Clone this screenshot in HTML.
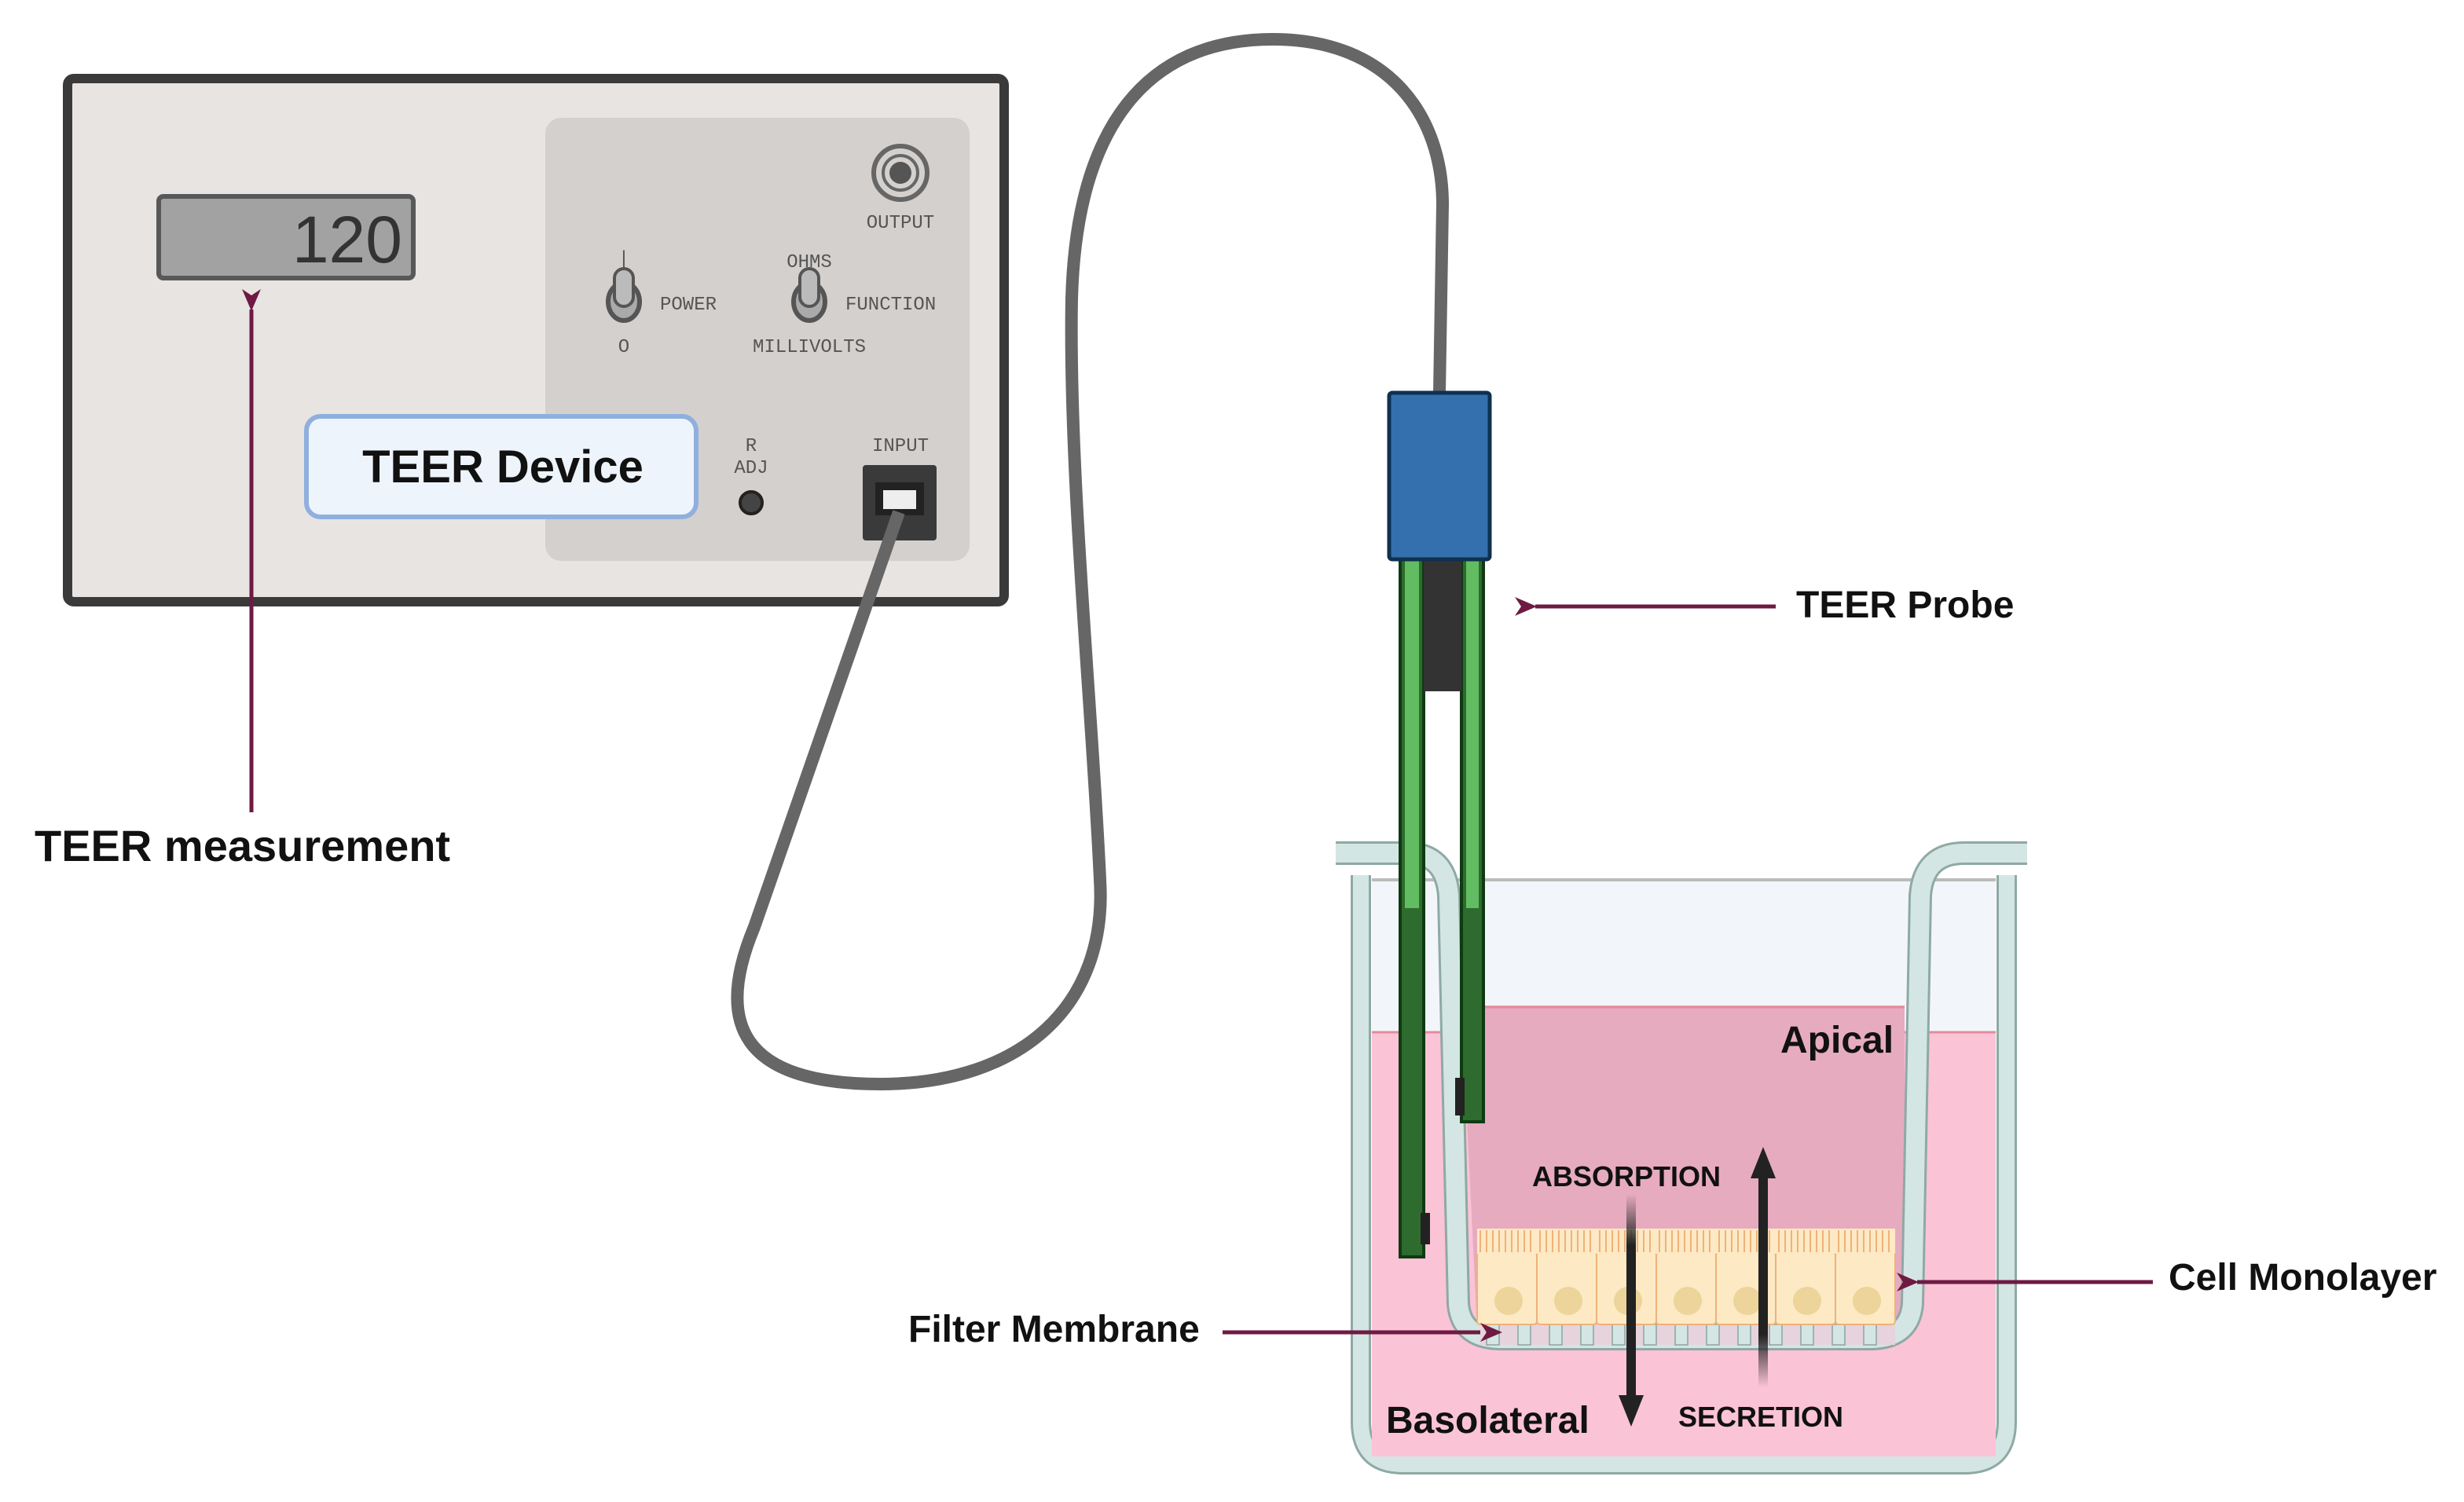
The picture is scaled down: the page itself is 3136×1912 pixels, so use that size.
<!DOCTYPE html>
<html><head><meta charset="utf-8"><style>
html,body{margin:0;padding:0;background:#fff;}
svg{display:block;}
text{font-family:"Liberation Sans",sans-serif;}
.m{font-family:"Liberation Mono",monospace;fill:#555;font-size:12px;}
.b{font-weight:bold;fill:#111;}
</style></head><body>
<svg width="3136" height="1912" viewBox="0 0 1568 956" xmlns="http://www.w3.org/2000/svg">
<defs>
<marker id="ah" markerWidth="14" markerHeight="12" refX="1" refY="6" orient="auto" markerUnits="userSpaceOnUse"><path d="M14,0 L0,6 L14,12 L10,6 Z" fill="#6e1a42"/></marker>
<linearGradient id="ga" x1="0" y1="0" x2="0" y2="1"><stop offset="0" stop-color="#222" stop-opacity="0"/><stop offset="0.25" stop-color="#222"/></linearGradient>
<linearGradient id="gs" x1="0" y1="1" x2="0" y2="0"><stop offset="0" stop-color="#222" stop-opacity="0"/><stop offset="0.25" stop-color="#222"/></linearGradient>
</defs>
<rect width="1568" height="956" fill="#fff"/>
<!-- device -->
<rect x="43" y="50" width="596" height="333" rx="4" fill="#e8e4e2" stroke="#3a3a3a" stroke-width="6"/>
<rect x="347" y="75" width="270" height="282" rx="10" fill="#d4d0ce"/>
<rect x="101" y="125" width="162" height="52" rx="3" fill="#a2a2a2" stroke="#585858" stroke-width="3"/>
<text x="256" y="167" text-anchor="end" font-size="42" fill="#333">120</text>
<circle cx="573" cy="110" r="17" fill="#d4d0ce" stroke="#666" stroke-width="3"/>
<circle cx="573" cy="110" r="11" fill="none" stroke="#666" stroke-width="2"/>
<circle cx="573" cy="110" r="7" fill="#555"/>
<text x="573" y="145" text-anchor="middle" class="m">OUTPUT</text>
<ellipse cx="397" cy="192" rx="10" ry="12" fill="#aaa" stroke="#555" stroke-width="3"/>
<rect x="391" y="171" width="12" height="24" rx="6" fill="#bbb" stroke="#555" stroke-width="2"/>
<text x="397" y="168" text-anchor="middle" class="m">|</text>
<text x="420" y="197" class="m">POWER</text>
<text x="397" y="224" text-anchor="middle" class="m">O</text>
<ellipse cx="515" cy="192" rx="10" ry="12" fill="#aaa" stroke="#555" stroke-width="3"/>
<rect x="509" y="171" width="12" height="24" rx="6" fill="#bbb" stroke="#555" stroke-width="2"/>
<text x="515" y="170" text-anchor="middle" class="m">OHMS</text>
<text x="538" y="197" class="m">FUNCTION</text>
<text x="515" y="224" text-anchor="middle" class="m">MILLIVOLTS</text>
<text x="478" y="287" text-anchor="middle" class="m">R</text>
<text x="478" y="301" text-anchor="middle" class="m">ADJ</text>
<circle cx="478" cy="320" r="7" fill="#444" stroke="#222" stroke-width="2"/>
<text x="573" y="287" text-anchor="middle" class="m">INPUT</text>
<rect x="549" y="296" width="47" height="48" rx="2" fill="#3a3a3a"/>
<rect x="557" y="307" width="31" height="21" fill="#222"/>
<rect x="562" y="312" width="21" height="12" fill="#eee"/>
<rect x="195" y="265" width="248" height="64" rx="9" fill="#eef4fc" stroke="#8fb0de" stroke-width="3"/>
<text x="320" y="307" text-anchor="middle" class="b" font-size="29">TEER Device</text>
<!-- cable -->
<path d="M572,326 L480,590 C455,650 470,690 560,690 C650,690 705,640 700,560 C695,450 680,300 682,190 C685,80 730,25 810,25 C885,25 918,75 918,130 L916,250" fill="none" stroke="#666" stroke-width="8" stroke-linejoin="round"/>
<!-- TEER measurement arrow -->
<line x1="160" y1="517" x2="160" y2="197" stroke="#6e1a42" stroke-width="2.5" marker-end="url(#ah)"/>
<text x="22" y="548" class="b" font-size="28">TEER measurement</text>
<!-- well outer -->
<path d="M866,557 L866,905 Q866,932 893,932 L1250,932 Q1277,932 1277,905 L1277,557" fill="none" stroke="#8fa9a4" stroke-width="13"/>
<path d="M866,557 L866,905 Q866,932 893,932 L1250,932 Q1277,932 1277,905 L1277,557" fill="none" stroke="#d3e6e3" stroke-width="10"/>
<rect x="873" y="560" width="397" height="98" fill="#f2f6fa"/>
<line x1="873" y1="560" x2="1270" y2="560" stroke="#bbb" stroke-width="2"/>
<rect x="873" y="657" width="397" height="270" fill="#fbc3d6"/>
<line x1="873" y1="657" x2="1270" y2="657" stroke="#e48c9c" stroke-width="1.5"/>
<!-- insert -->
<path d="M930,640 L1212,640 L1212,846 L940,846 Z" fill="#e6abbf"/>
<line x1="930" y1="641" x2="1212" y2="641" stroke="#e48c9c" stroke-width="1.5"/>
<path d="M850,543 L895,543 Q920,543 922,570 L928,830 Q930,852 955,852 L1190,852 Q1215,852 1217,830 L1222,570 Q1224,543 1250,543 L1290,543" fill="none" stroke="#8fa9a4" stroke-width="15"/>
<path d="M850,543 L895,543 Q920,543 922,570 L928,830 Q930,852 955,852 L1190,852 Q1215,852 1217,830 L1222,570 Q1224,543 1250,543 L1290,543" fill="none" stroke="#d3e6e3" stroke-width="12"/>
<!-- membrane -->
<rect x="942" y="843" width="264" height="13" fill="#e7d3dc"/>
<g fill="#d3e6e3" stroke="#8fa9a4" stroke-width="0.8">
<rect x="946" y="843" width="8" height="13"/><rect x="966" y="843" width="8" height="13"/><rect x="986" y="843" width="8" height="13"/><rect x="1006" y="843" width="8" height="13"/><rect x="1026" y="843" width="8" height="13"/><rect x="1046" y="843" width="8" height="13"/><rect x="1066" y="843" width="8" height="13"/><rect x="1086" y="843" width="8" height="13"/><rect x="1106" y="843" width="8" height="13"/><rect x="1126" y="843" width="8" height="13"/><rect x="1146" y="843" width="8" height="13"/><rect x="1166" y="843" width="8" height="13"/><rect x="1186" y="843" width="8" height="13"/>
</g>
<!-- cells -->
<g stroke="#eeb27a" stroke-width="1" fill="#fde9c4">
<rect x="940" y="797" width="38" height="46" rx="2"/><rect x="978" y="797" width="38" height="46" rx="2"/><rect x="1016" y="797" width="38" height="46" rx="2"/><rect x="1054" y="797" width="38" height="46" rx="2"/><rect x="1092" y="797" width="38" height="46" rx="2"/><rect x="1130" y="797" width="38" height="46" rx="2"/><rect x="1168" y="797" width="38" height="46" rx="2"/>
</g>
<rect x="940" y="782" width="266" height="16" fill="#fde9c4"/>
<path d="M942,797 V783 M946,797 V783 M950,797 V783 M954,797 V783 M958,797 V783 M962,797 V783 M966,797 V783 M970,797 V783 M974,797 V783 M980,797 V783 M984,797 V783 M988,797 V783 M992,797 V783 M996,797 V783 M1000,797 V783 M1004,797 V783 M1008,797 V783 M1012,797 V783 M1018,797 V783 M1022,797 V783 M1026,797 V783 M1030,797 V783 M1034,797 V783 M1038,797 V783 M1042,797 V783 M1046,797 V783 M1050,797 V783 M1056,797 V783 M1060,797 V783 M1064,797 V783 M1068,797 V783 M1072,797 V783 M1076,797 V783 M1080,797 V783 M1084,797 V783 M1088,797 V783 M1094,797 V783 M1098,797 V783 M1102,797 V783 M1106,797 V783 M1110,797 V783 M1114,797 V783 M1118,797 V783 M1122,797 V783 M1126,797 V783 M1132,797 V783 M1136,797 V783 M1140,797 V783 M1144,797 V783 M1148,797 V783 M1152,797 V783 M1156,797 V783 M1160,797 V783 M1164,797 V783 M1170,797 V783 M1174,797 V783 M1178,797 V783 M1182,797 V783 M1186,797 V783 M1190,797 V783 M1194,797 V783 M1198,797 V783 M1202,797 V783" stroke="#eeb27a" stroke-width="1"/>
<g fill="#ecd49a"><circle cx="960" cy="828" r="9"/><circle cx="998" cy="828" r="9"/><circle cx="1036" cy="828" r="9"/><circle cx="1074" cy="828" r="9"/><circle cx="1112" cy="828" r="9"/><circle cx="1150" cy="828" r="9"/><circle cx="1188" cy="828" r="9"/></g>
<!-- flux arrows -->
<rect x="1035" y="760" width="6" height="130" fill="url(#ga)"/>
<path d="M1030,888 L1046,888 L1038,908 Z" fill="#222"/>
<rect x="1119" y="748" width="6" height="135" fill="url(#gs)"/>
<path d="M1114,750 L1130,750 L1122,730 Z" fill="#222"/>
<text x="975" y="755" class="b" font-size="18">ABSORPTION</text>
<text x="1068" y="908" class="b" font-size="18">SECRETION</text>
<text x="1133" y="670" class="b" font-size="24">Apical</text>
<text x="882" y="912" class="b" font-size="24">Basolateral</text>
<!-- probe -->
<rect x="891" y="354" width="15" height="446" fill="#2e6b2e" stroke="#0f3a12" stroke-width="2"/>
<rect x="894" y="356" width="9" height="222" fill="#62bd62"/>
<rect x="930" y="354" width="14" height="360" fill="#2e6b2e" stroke="#0f3a12" stroke-width="2"/>
<rect x="933" y="356" width="8" height="222" fill="#62bd62"/>
<rect x="906" y="356" width="24" height="84" fill="#333"/>
<rect x="904" y="772" width="6" height="20" fill="#222"/>
<rect x="926" y="686" width="6" height="24" fill="#222"/>
<rect x="884" y="250" width="64" height="106" rx="2" fill="#3470ad" stroke="#0f3050" stroke-width="2.5"/>
<!-- labels -->
<line x1="1130" y1="386" x2="977" y2="386" stroke="#6e1a42" stroke-width="2.5" marker-end="url(#ah)"/>
<text x="1143" y="393" class="b" font-size="24">TEER Probe</text>
<line x1="1370" y1="816" x2="1220" y2="816" stroke="#6e1a42" stroke-width="2.5" marker-end="url(#ah)"/>
<text x="1380" y="821" class="b" font-size="24">Cell Monolayer</text>
<line x1="778" y1="848" x2="942" y2="848" stroke="#6e1a42" stroke-width="2.5"/>
<path d="M956,848 L942,842 L946,848 L942,854 Z" fill="#6e1a42"/>
<text x="578" y="854" class="b" font-size="24">Filter Membrane</text>
</svg>
</body></html>
